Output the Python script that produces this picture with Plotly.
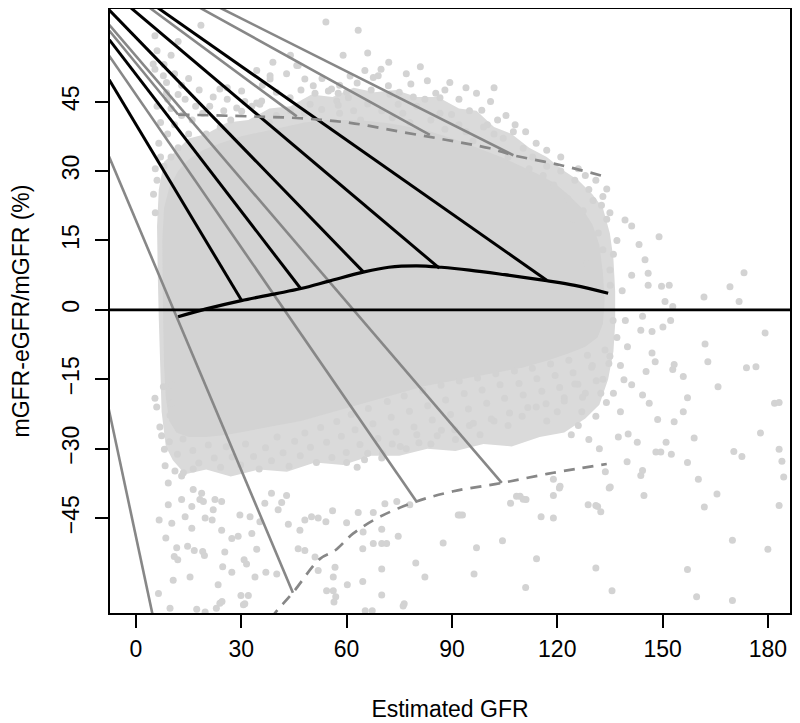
import plotly.graph_objects as go

# ---------------- data ----------------
x_ticks = [0, 30, 60, 90, 120, 150, 180]
y_ticks = [-45, -30, -15, 0, 15, 30, 45]
x_title = "Estimated GFR"
y_title = "mGFR-eGFR/mGFR (%)"

# outline of the densest part of the point cloud (eGFR, %)
core_x = [7.5, 8, 9.5, 12, 15, 19, 24, 30, 36, 42, 48, 54, 60, 66, 72, 78, 84, 89, 94, 99, 104, 109, 114, 119,
          123, 127, 130, 132, 133, 133.5, 133, 131.5, 128, 123, 117, 110, 103, 96, 89, 82, 75, 68, 61, 54, 47,
          40, 33, 26, 20, 15, 11.5, 9.5, 8.5, 8, 7.8, 7.6]
core_y = [15, 22, 26.5, 30, 32.5, 34.5, 36, 37.5, 38.5, 39.5, 40.5, 41, 41, 40.8, 40.3, 39.5, 38.5, 37.3, 36,
          34.5, 33, 31.3, 29.5, 27.5, 25, 22, 18.5, 14, 8, 2, -3, -6, -8, -9.5, -11, -12.5, -13.5, -14.5,
          -15.5, -16.5, -18, -19.5, -21, -22.5, -24, -25, -26, -27, -27.5, -27.5, -26.5, -24, -19, -12, -4, 5]
# outline of the surrounding medium-density zone
halo_x = [6, 6.5, 8, 11, 15, 20, 26, 32, 38, 44, 50, 56, 62, 68, 74, 80, 86, 92, 97, 102, 107, 112, 117, 122,
          126, 130, 133, 135, 136, 136.5, 136.5, 136, 134.5, 132, 128, 122, 115, 107, 99, 91, 83, 75, 67, 59,
          51, 43, 35, 27, 20, 14, 10.5, 8.5, 7.3, 6.8, 6.5, 6.2]
halo_y = [18, 26, 32, 34, 37, 38, 40.5, 41, 43.5, 44, 46.5, 46, 48, 47, 47.5, 46, 46, 43.5, 43, 39.5,
          38, 35, 33, 30, 28, 25, 22, 16.5, 11, 4, -3, -9, -15, -20.5, -23.5, -26.5, -27.5, -29.5, -29, -30.5,
          -30, -31.5, -31.5, -33.5, -33, -35, -34.5, -36, -34.5, -35.5, -32.5, -29.5, -22, -12, -2, 8]

# individual points outside the dense core
pts_upper = [(18.5, 61.5), (54.1, 62.2), (63.3, 60.4), (5.4, 59.2), (4.9, 53.1), (5.4, 52.0), (8.7, 49.1),
             (8.7, 46.9), (7.8, 50.6), (14.0, 45.5), (17.0, 44.0), (23.9, 47.7), (30.1, 47.3), (34.4, 51.7),
             (38.2, 49.9), (42.9, 51.0), (46.2, 52.8), (35.3, 44.4), (33.0, 44.0), (28.7, 43.6), (30.1, 42.9),
             (43.9, 45.8), (48.1, 49.9), (50.5, 48.4), (51.0, 46.8), (55.7, 47.7), (57.6, 46.8), (57.2, 45.1),
             (60.5, 45.8), (65.2, 51.7), (67.6, 50.2), (69.8, 52.0), (69.0, 50.6), (71.9, 48.4), (72.3, 46.6),
             (74.7, 44.4), (78.3, 48.8), (82.3, 45.5), (85.4, 46.8), (86.6, 45.8), (89.4, 49.1), (89.9, 42.2),
             (86.6, 42.5), (97.0, 46.8), (98.5, 43.1), (100.1, 40.0), (49.6, 44.4), (54.8, 47.3), (52.9, 43.3),
             (57.6, 44.2), (45.8, 52.8), (38.2, 50.6), (34.4, 44.7), (35.8, 45.1), (105.4, 42.0), (107.5, 38.5),
             (104.6, 37.1), (110.3, 34.9), (62, 43), (66, 44.5), (70, 43), (76, 42.5), (80, 44), (84, 41),
             (92, 40), (95, 43), (102, 38), (94, 38.5), (20, 38), (24, 39.5), (12, 35), (15, 38), (10, 33),
             (27, 41), (40, 42), (44, 43), (48, 42.5), (38, 40.5), (58, 42.5), (64, 41), (73, 41.5), (78, 40.5),
             (88, 39), (96, 36.5), (106, 33), (112, 30.5), (116, 29), (6, 28), (5.5, 30.5), (7, 33), (6.5, 36),
             (9, 38), (11, 40), (7, 40.5), (13, 42), (6, 44), (10, 43.5), (9, 45.5), (12, 46.5), (16, 41),
             (19, 42.5), (21, 44), (25, 43), (26, 45.5), (8, 31), (5, 25), (5.5, 21),
             (60, 47), (63, 49), (67, 47.5), (75, 47), (79, 46), (83, 49.5), (88, 47.5), (92, 45.5), (94, 48),
             (101, 45), (103, 41), (108, 40), (99, 39.5), (61, 50.5), (58, 48.5), (53, 50), (47, 47.5), (40, 47),
             (36, 48.5), (31, 45), (26, 48), (22, 46), (18, 47.5), (15, 50), (11, 51), (13, 48.5), (10, 55),
             (6, 56), (8, 53), (12, 58), (39, 53.5), (44, 55), (72, 53.5), (77, 51), (81, 52.5), (59, 55),
             (66, 55.5), (102, 48), (111, 38.5), (114, 36), (117, 34.5), (121, 33), (126, 30.5), (128, 29),
             (131, 28), (133, 24.5)]

pts_right = [(134.1, 26.1), (130.2, 23.6), (132.6, 22.6), (134.1, 19.6), (139.3, 19.4), (141.2, 18.1),
             (149.0, 15.8), (143.3, 14.1), (145.0, 10.8), (145.9, 7.9), (141.2, 7.5), (145.9, 5.3),
             (149.7, 5.1), (151.9, 5.3), (173.2, 8.0), (169.2, 5.0), (161.8, 2.8), (171.8, 1.8), (150.7, 1.8),
             (152.9, 0.7), (135.0, 8.6), (128.4, 10.1), (124.6, 19.7), (127.4, 21.4), (131.7, 16.6),
             (138.5, 4.1), (135.1, 5.3), (136, 12), (137, 15), (135, 21), (133, 13), (129, 26), (125, 28),
             (121, 30), (117, 31), (113, 33), (119, 27), (123, 24), (179.2, -5.0), (135.9, -2.3), (139.4, -2.3),
             (144.3, -1.4), (150.1, -3.7), (152.3, -2.3), (147.0, -4.7), (143.8, -4.4), (162.1, -7.4),
             (162.9, -11.2), (173.9, -12.5), (176.6, -12.3), (165.8, -16.6), (155.9, -14.4), (153.3, -11.8),
             (152.9, -12.9), (147.0, -9.3), (147.9, -11.2), (145.3, -13.3), (141.2, -16.2), (139.0, -15.1),
             (144.3, -18.4), (146.2, -20.2), (157.1, -19.0), (155.9, -22.0), (181.9, -20.2), (183.2, -20.0),
             (153.3, -24.2), (148.6, -23.7), (159.0, -27.7), (177.9, -26.6), (170.3, -30.6), (172.6, -31.7),
             (183.2, -30.1), (184.0, -32.7), (184.5, -36.1), (151.0, -28.6), (148.1, -30.7), (152.5, -31.2),
             (157.1, -33.0), (139.9, -32.8), (144.3, -34.7), (143.8, -35.8), (160.2, -36.6), (165.5, -39.8),
             (144.7, -40.1), (161.9, -42.6), (183.2, -42.3), (169.9, -49.8), (180.0, -51.7), (157.1, -56.1),
             (159.7, -62.0), (169.9, -62.8), (135.1, -38.3), (131.5, -42.5), (133.7, -35.0), (137.4, -27.5),
             (140.2, -26.8), (142.8, -28.6), (149.5, -30.7), (130, -12), (133, -15), (128, -18), (135, -10),
             (137, -6), (134, -20), (131, -23), (127, -22), (125, -16), (122, -19), (126, -25), (129, -28),
             (136, -18), (138, -12), (140, -8), (138, -22), (132, -30), (124, -27), (120, -22), (117, -24),
             (114, -21), (110, -23), (106, -25), (102, -24), (98, -27), (95, -25), (91, -28), (87, -26),
             (84, -29), (80, -27), (77, -30), (73, -29), (70, -32), (66, -31), (63, -34), (60, -33)]

pts_lower = [(6.4, -61.3), (10.6, -58.4), (15.4, -57.7), (23.4, -59.4), (23.9, -63.4), (29.9, -61.7),
             (32.0, -61.7), (30.6, -63.7), (17.3, -64.7), (19.7, -65.3), (37.0, -56.7), (40.1, -57.1),
             (33.9, -57.7), (24.7, -55.5), (27.3, -56.7), (10.9, -53.3), (11.9, -54.0), (14.7, -51.1),
             (16.6, -52.0), (19.0, -52.2), (19.5, -53.1), (8.5, -49.3), (11.6, -51.4), (25.3, -52.3),
             (30.8, -54.0), (31.5, -54.9), (34.4, -51.7), (6.6, -45.4), (10.2, -46.1), (14.0, -44.7),
             (15.9, -47.2), (19.7, -45.0), (21.7, -45.4), (24.4, -47.6), (27.3, -49.4), (29.1, -48.9),
             (33.0, -48.3), (29.6, -44.3), (32.5, -44.7), (35.3, -45.8), (9.2, -42.1), (13.0, -41.0),
             (15.9, -42.5), (18.2, -41.0), (19.2, -41.4), (22.5, -41.0), (22.0, -43.2), (24.4, -41.4),
             (36.7, -41.8), (38.6, -39.6), (41.5, -41.6), (40.5, -43.2), (42.9, -40.1), (43.4, -46.3),
             (46.7, -47.6), (48.1, -45.4), (50.0, -44.7), (51.9, -45.0), (46.2, -51.6), (48.1, -52.0),
             (51.0, -53.4), (51.9, -56.3), (9.2, -37.4), (13.0, -35.9), (16.3, -38.8), (18.7, -39.6),
             (8.3, -33.7), (11.1, -34.8), (13.5, -35.2), (16.3, -34.4), (7.3, -27.2), (6.8, -25.3),
             (8.1, -30.1), (5.4, -19.1), (5.9, -21.0), (7.8, -16.6), (10.2, -16.2), (10.2, -20.2), (9.7, -22.8),
             (9.7, -64.5), (22.9, -64.5), (24.5, -63), (31, -63.5), (56.9, -62), (65.3, -65), (67.3, -65),
             (76.4, -63.5), (92.3, -44.3), (87.5, -50.4), (97.0, -51.4), (104.4, -49.9), (114.1, -53.8),
             (111.0, -60.0), (131.0, -55.8), (135.6, -60.7), (96.3, -57.1), (82.3, -57.7), (79.7, -54.7),
             (76.1, -64.0), (70.0, -56.0), (70.0, -61.6), (64.6, -58.7), (60.2, -59.4), (56.4, -63.1),
             (54.3, -60.7), (56.2, -60.7), (56.7, -55.6), (56.2, -57.7), (64.6, -51.6), (67.6, -50.5),
             (70.0, -50.5), (71.4, -50.5), (64.7, -48.0), (70.0, -47.4), (91.8, -44.3), (93.0, -44.3),
             (106.7, -41.8), (109.4, -40.3), (111.1, -41.0), (115.4, -44.7), (118.9, -45.0), (128.8, -42.1),
             (131.0, -42.3), (132.4, -43.6), (134.8, -38.5), (118.9, -40.1), (120.6, -38.5), (74.7, -48.9),
             (67.6, -43.8), (70.9, -41.9), (74.3, -41.4), (78.0, -42.1), (63.3, -43.8), (60.0, -46.0),
             (56.0, -43.4), (54.1, -45.8), (108.4, -40.3), (110.3, -40.9), (118.9, -36.6), (120.8, -38.1)]

pts_middle = [(9.5, -28.5), (11.8, -31.2), (13.4, -27.9), (16.2, -30.4), (17.9, -33.1), (20.6, -29.2),
              (22.3, -32.0), (24.1, -34.0), (25.7, -29.6), (27.4, -31.8), (29.8, -33.5), (31.2, -29.0),
              (33.5, -31.7), (35.1, -34.4), (36.9, -29.8), (38.6, -32.6), (40.2, -27.5), (41.9, -30.9),
              (43.6, -33.8), (45.2, -28.4), (46.8, -31.5), (48.1, -26.6), (49.7, -29.7), (51.4, -33.0),
              (52.6, -25.4), (54.3, -28.6), (55.8, -31.9), (57.2, -24.1), (58.5, -27.3), (59.9, -30.8),
              (61.3, -22.6), (62.4, -25.9), (63.8, -29.1), (65.1, -32.4), (66.2, -21.3), (67.5, -24.6),
              (68.9, -27.8), (70.2, -31.0), (71.6, -19.8), (72.7, -23.2), (74.1, -26.4), (75.3, -29.5),
              (76.4, -18.6), (77.9, -21.9), (79.2, -25.3), (80.6, -28.7), (81.7, -17.4), (83.1, -20.7),
              (84.4, -23.8), (85.8, -27.2), (86.9, -16.3), (88.2, -19.5), (89.6, -22.6), (90.8, -25.9),
              (92.1, -15.4), (93.5, -18.1), (94.7, -21.4), (96.1, -24.5), (97.3, -14.7), (98.6, -17.3),
              (99.9, -20.2), (101.2, -23.6), (102.5, -13.8), (103.7, -16.2), (105.0, -19.1), (106.4, -22.3),
              (107.8, -13.2), (109.1, -15.9), (110.3, -18.4), (111.6, -21.1), (112.9, -12.6), (114.2, -14.9),
              (115.6, -17.6), (116.8, -20.3), (118.1, -11.7), (119.4, -14.2), (120.7, -16.8), (122.0, -19.7),
              (123.3, -10.9), (124.5, -13.6), (125.9, -16.1), (127.2, -18.9), (128.6, -9.8), (129.8, -12.4),
              (131.1, -15.3), (132.4, -18.0), (133.6, -8.7), (134.7, -11.6)]

# median curve and percentile curves
median_x = [12, 20, 30, 40, 47, 55, 65, 72, 80, 87, 95, 105, 117, 125, 134.5]
median_y = [-1.5, 0.2, 2.0, 3.5, 4.6, 6.2, 8.2, 9.2, 9.5, 9.2, 8.6, 7.6, 6.3, 5.3, 3.6]
upper_x = [12.0, 32.5, 46.7, 61.0, 75.2, 88.5, 100.8, 107.5, 120.8, 134.1]
upper_y = [42.2, 41.8, 41.4, 40.4, 38.5, 36.7, 34.9, 33.4, 31.3, 28.7]
lower_x = [35.0, 39.6, 44.7, 52.4, 56.7, 61.9, 69.5, 79.9, 90.4, 104.2, 118.9, 134.1]
lower_y = [-70.0, -65.5, -61.1, -53.8, -52.0, -48.3, -44.7, -41.4, -39.2, -37.4, -35.2, -33.3]

# common origin of the fan of reference lines and their end points
apex = (-38.85, 89.2)
black_end_x = [30.1, 47.0, 64.7, 86.4, 117.0]
black_end_y = [2.0, 4.5, 8.25, 9.0, 6.4]
gray_end_x = [107.5, 83.7, 45.8, 12.0, 104.2, 79.9, 44.7, 7.3]
gray_end_y = [33.4, 37.8, 41.8, 42.2, -37.4, -41.4, -61.1, -75.0]
zero_ref = 0

# ---------------- styles ----------------
PT = "#d3d3d3"
HALO = "#dadada"
GRAY = "#878787"
FONT = "Liberation Sans, Arial, sans-serif"

fig = go.Figure()
fig.add_trace(go.Scatter(x=halo_x, y=halo_y, mode="lines", fill="toself", fillcolor=HALO,
                         line=dict(width=0, color=HALO), hoverinfo="skip", showlegend=False))
fig.add_trace(go.Scatter(x=core_x, y=core_y, mode="lines", fill="toself", fillcolor=PT,
                         line=dict(width=0, color=PT), hoverinfo="skip", showlegend=False))
allpts = pts_upper + pts_right + pts_lower + pts_middle
fig.add_trace(go.Scatter(x=[p[0] for p in allpts], y=[p[1] for p in allpts], mode="markers",
                         marker=dict(size=7, color=PT, line=dict(width=0)), showlegend=False))

fig.add_hline(y=zero_ref, line=dict(color="black", width=2.6))

for ex, ey in zip(gray_end_x, gray_end_y):
    fig.add_trace(go.Scatter(x=[apex[0], ex], y=[apex[1], ey], mode="lines",
                             line=dict(color=GRAY, width=2.6), showlegend=False))
for ex, ey in zip(black_end_x, black_end_y):
    fig.add_trace(go.Scatter(x=[apex[0], ex], y=[apex[1], ey], mode="lines",
                             line=dict(color="black", width=3), showlegend=False))

fig.add_trace(go.Scatter(x=upper_x, y=upper_y, mode="lines", line_shape="spline",
                         line=dict(color=GRAY, width=2.7, dash="11px,8px"), showlegend=False))
fig.add_trace(go.Scatter(x=lower_x, y=lower_y, mode="lines", line_shape="spline",
                         line=dict(color=GRAY, width=2.7, dash="11px,8px"), showlegend=False))
fig.add_trace(go.Scatter(x=median_x, y=median_y, mode="lines", line_shape="spline",
                         line=dict(color="black", width=3.2), showlegend=False))

axis_common = dict(showgrid=False, zeroline=False, showline=True, linecolor="black", linewidth=1.5,
                   mirror=True, ticks="outside", ticklen=13, tickwidth=1.5, tickcolor="black",
                   automargin=False, tickfont=dict(family=FONT, size=23, color="black"))
fig.update_xaxes(range=[-7.4, 186.3], tickvals=x_ticks, ticklabelstandoff=2,
                 title=dict(text=x_title, font=dict(family=FONT, size=23, color="black"), standoff=40),
                 **axis_common)
fig.update_yaxes(range=[-65.5, 65], tickvals=y_ticks, tickangle=-90, ticklabelstandoff=7,
                 title=dict(text=y_title, font=dict(family=FONT, size=23, color="black"), standoff=23),
                 **axis_common)
# the page adds an 8px body margin, so the figure is 8px smaller than the window
fig.update_layout(width=792, height=715, margin=dict(l=102, r=10, t=1, b=110),
                  plot_bgcolor="white", paper_bgcolor="white", showlegend=False)
fig.write_html("out.html")
